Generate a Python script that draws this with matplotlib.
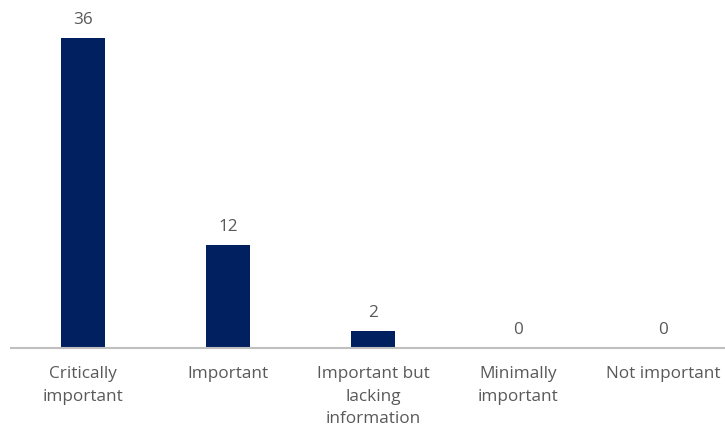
import matplotlib
matplotlib.use("Agg")
import matplotlib.pyplot as plt

categories = ["Critically\nimportant", "Important", "Important but\nlacking\ninformation",
              "Minimally\nimportant", "Not important"]
values = [36, 12, 2, 0, 0]

W, H = 725, 428
fig = plt.figure(figsize=(W / 100, H / 100), dpi=100)
ax = fig.add_axes([10.5 / W, (H - 348) / H, 725 / W, 344.4 / H])

bar_color = "#002060"
text_color = "#595959"
font = ["Open Sans", "DejaVu Sans"]

x = list(range(len(categories)))
ax.bar(x, values, width=0.31, color=bar_color, zorder=2)
ax.set_xlim(-0.5, 4.5)
ax.set_ylim(0, 40)

for xi, v in zip(x, values):
    ax.annotate(str(v), (xi, v), xytext=(0, 7), textcoords="offset points",
                ha="center", va="bottom", fontsize=12.3, color=text_color, family=font)

ax.set_xticks(x)
ax.set_xticklabels(categories, fontsize=12.3, color=text_color, family=font, linespacing=1.56)
ax.tick_params(axis="x", length=0, pad=13)
ax.set_yticks([])
for s in ["top", "right", "left"]:
    ax.spines[s].set_visible(False)
ax.spines["bottom"].set_color("#BFBFBF")
ax.spines["bottom"].set_linewidth(1.5)
ax.spines["bottom"].set_zorder(3)

fig.savefig("out.png", dpi=100)
